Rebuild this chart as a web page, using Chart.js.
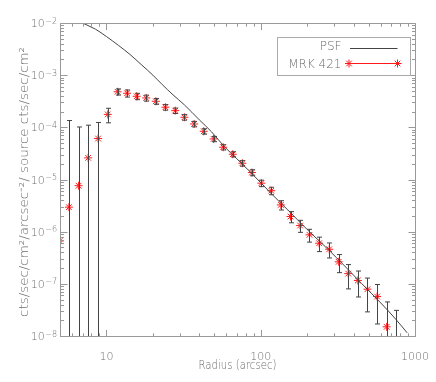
<!DOCTYPE html>
<html>
<head>
<meta charset="utf-8">
<script src="https://cdn.jsdelivr.net/npm/chart.js@4/dist/chart.umd.min.js"></script>
<style>
  html, body { margin: 0; background: #fff; }
</style>
</head>
<body>
<canvas id="profile" width="436" height="382"></canvas>
<script>
// radial profile of MRK 421
const radius = [4.97, 5.71, 6.60, 7.61, 8.83, 10.2, 11.8, 13.6, 15.7, 18.1, 20.9, 24.1,
  27.9, 32.0, 37.0, 42.7, 49.5, 57.1, 65.9, 76.0, 87.7, 101, 117, 135, 156, 180, 207,
  239, 278, 320, 369, 426, 492, 568, 655, 755];
const mrkFlux = [6.6e-7, 2.95e-6, 7.6e-6, 2.6e-5, 6.1e-5, 1.77e-4, 4.8e-4, 4.5e-4, 3.94e-4,
  3.66e-4, 3.16e-4, 2.43e-4, 2.09e-4, 1.56e-4, 1.16e-4, 8.4e-5, 6.0e-5, 4.16e-5, 3.05e-5,
  2.05e-5, 1.36e-5, 8.5e-6, 6.1e-6, 3.26e-6, 1.95e-6, 1.31e-6, 8.7e-7, 6.0e-7, 4.6e-7,
  2.64e-7, 1.57e-7, 1.16e-7, 7.9e-8, 5.7e-8, 1.5e-8, 5e-9];
const mrkErr = [0, 1.32e-4, 9.4e-5, 8.4e-5, 6.3e-5, 5.5e-5, 6.5e-5, 7e-5, 5.5e-5, 4.8e-5,
  4e-5, 3e-5, 2.5e-5, 1.9e-5, 1.4e-5, 1.0e-5, 7e-6, 4.8e-6, 3.5e-6, 2.5e-6, 1.8e-6,
  1.2e-6, 1.0e-6, 6.6e-7, 4.7e-7, 3.4e-7, 2.4e-7, 1.85e-7, 1.47e-7, 1.0e-7, 7.7e-8,
  6.0e-8, 5.0e-8, 4.0e-8, 3.0e-8, 2.6e-8];

// PSF curve
const psfRadius = [6, 7, 8.5, 10, 12, 14.2, 17, 20, 23, 27, 32, 40, 48, 58, 70, 85, 100,
  119, 150, 200, 276, 350, 450, 600, 750, 890];
const psfFlux = [1.3e-2, 1.0e-2, 7.6e-3, 5.5e-3, 3.7e-3, 2.5e-3, 1.55e-3, 1.0e-3, 6.6e-4,
  4.2e-4, 2.7e-4, 1.39e-4, 8.2e-5, 4.3e-5, 2.5e-5, 1.42e-5, 8.7e-6, 5.1e-6, 2.6e-6,
  1.1e-6, 4.45e-7, 2.2e-7, 1.02e-7, 4.3e-8, 2.1e-8, 1.15e-8];

const xTickValues = [10, 100, 1000];
const xTickLabels = ['10', '100', '1000'];
const yTickValues = [1e-8, 1e-7, 1e-6, 1e-5, 1e-4, 1e-3, 1e-2];
const legendLabels = ['PSF', 'MRK 421'];
const xTitle = 'Radius (arcsec)';
const yTitle = 'cts/sec/cm\u00b2/arcsec\u207b\u00b2/ source cts/sec/cm\u00b2';

const FONT = '"DejaVu Sans", "Liberation Sans", sans-serif';
const LIGHT = '200 ';
const axisColor = '#999';
const textColor = '#6e6e6e';
const psfColor = '#444';
const errColor = '#444';
const starColor = '#ff1a1a';

function fitText(ctx, text, x, y, width, angle) {
  ctx.save();
  ctx.translate(x, y);
  ctx.rotate(angle);
  const w = ctx.measureText(text).width;
  ctx.scale(width / w, 1);
  ctx.textAlign = 'center';
  ctx.textBaseline = 'alphabetic';
  ctx.fillText(text, 0, 0);
  ctx.restore();
}

function drawStar(ctx, cx, cy, r) {
  const d = r * Math.SQRT1_2;
  ctx.beginPath();
  ctx.moveTo(cx - r, cy); ctx.lineTo(cx + r, cy);
  ctx.moveTo(cx, cy - r); ctx.lineTo(cx, cy + r);
  ctx.moveTo(cx - d, cy - d); ctx.lineTo(cx + d, cy + d);
  ctx.moveTo(cx - d, cy + d); ctx.lineTo(cx + d, cy - d);
  ctx.stroke();
}

// error bars, clipped to the plot box
const errorBars = {
  id: 'errorBars',
  afterDatasetsDraw(chart) {
    const { ctx, chartArea: a, scales: { x, y } } = chart;
    ctx.save();
    ctx.beginPath();
    ctx.rect(a.left, a.top, a.right - a.left, a.bottom - a.top);
    ctx.clip();
    ctx.strokeStyle = errColor;
    ctx.lineWidth = 1;
    radius.forEach((r, i) => {
      const e = mrkErr[i];
      if (!e) return;
      const px = Math.round(x.getPixelForValue(r)) + 0.5;
      const top = y.getPixelForValue(mrkFlux[i] + e);
      const lo = mrkFlux[i] - e;
      const bot = lo > 0 ? y.getPixelForValue(lo) : a.bottom + 2;
      ctx.beginPath();
      ctx.moveTo(px, top);
      ctx.lineTo(px, bot);
      ctx.moveTo(px - 2.5, top);
      ctx.lineTo(px + 2.5, top);
      if (lo > 0) {
        ctx.moveTo(px - 2.5, bot);
        ctx.lineTo(px + 2.5, bot);
      }
      ctx.stroke();
    });
    ctx.restore();
  }
};

// IDL style box with inward ticks on all four sides
const frame = {
  id: 'frame',
  afterDraw(chart) {
    const { ctx, chartArea: a, scales: { x, y } } = chart;
    ctx.save();
    ctx.strokeStyle = axisColor;
    ctx.lineWidth = 1;
    const L = Math.round(a.left) + 0.5, R = Math.round(a.right) + 0.5;
    const T = Math.round(a.top) + 0.5, B = Math.round(a.bottom) + 0.5;
    ctx.beginPath();
    ctx.moveTo(L, T); ctx.lineTo(L, B); ctx.lineTo(R, B);
    ctx.moveTo(L, T); ctx.lineTo(R, T); ctx.lineTo(R, B);
    for (const d of [1, 10, 100, 1000]) {
      for (let k = 1; k <= 9; k++) {
        const v = k * d;
        if (v < x.min || v > x.max) continue;
        const px = Math.round(x.getPixelForValue(v)) + 0.5;
        const len = k === 1 ? 6.5 : 3.2;
        ctx.moveTo(px, B); ctx.lineTo(px, B - len);
        ctx.moveTo(px, T); ctx.lineTo(px, T + len);
      }
    }
    for (let e = -9; e <= -3; e++) {
      for (let k = 1; k <= 9; k++) {
        const v = k * Math.pow(10, e);
        if (v < y.min * 0.999 || v > y.max * 1.001) continue;
        const py = Math.round(y.getPixelForValue(v)) + 0.5;
        const len = k === 1 ? 7 : 3.5;
        ctx.moveTo(L, py); ctx.lineTo(L + len, py);
        ctx.moveTo(R, py); ctx.lineTo(R - len, py);
      }
    }
    ctx.stroke();

    // y tick labels: 10 with raised exponent
    ctx.fillStyle = textColor;
    yTickValues.forEach(v => {
      const py = y.getPixelForValue(v);
      const exp = '\u2212' + String(Math.abs(Math.round(Math.log10(v))));
      ctx.font = LIGHT + '8px ' + FONT;
      ctx.textAlign = 'right';
      ctx.textBaseline = 'alphabetic';
      const ew = ctx.measureText(exp).width;
      ctx.fillText(exp, a.left - 3, py + 0.5);
      ctx.font = LIGHT + '11px ' + FONT;
      ctx.fillText('10', a.left - 3.5 - ew, py + 4);
    });

    // axis titles
    ctx.font = LIGHT + '11.5px ' + FONT;
    fitText(ctx, xTitle, (a.left + a.right) / 2, 368.5, 78, 0);
    fitText(ctx, yTitle, 28, 182, 270, -Math.PI / 2);
    ctx.restore();
  }
};

const legendBox = {
  id: 'legendBox',
  afterDraw(chart) {
    const ctx = chart.ctx;
    ctx.save();
    ctx.fillStyle = '#fff';
    ctx.fillRect(277.5, 37.5, 133, 38);
    ctx.strokeStyle = '#aaa';
    ctx.lineWidth = 1;
    ctx.strokeRect(277.5, 37.5, 133, 38);

    ctx.fillStyle = textColor;
    ctx.font = LIGHT + '12px ' + FONT;
    ctx.textAlign = 'right';
    ctx.textBaseline = 'alphabetic';
    ctx.fillText(legendLabels[0], 341.5, 49.5);
    ctx.fillText(legendLabels[1], 341.5, 67.5);

    ctx.strokeStyle = psfColor;
    ctx.beginPath();
    ctx.moveTo(350, 48.5); ctx.lineTo(397.5, 48.5);
    ctx.stroke();

    ctx.strokeStyle = starColor;
    drawStar(ctx, 349, 63.5, 4);
    drawStar(ctx, 397.5, 63.5, 4);
    ctx.beginPath();
    ctx.moveTo(349, 63.5); ctx.lineTo(397.5, 63.5);
    ctx.stroke();
    ctx.restore();
  }
};

new Chart(document.getElementById('profile'), {
  type: 'scatter',
  data: {
    datasets: [{
      label: legendLabels[0],
      type: 'line',
      data: psfRadius.map((r, i) => ({ x: r, y: psfFlux[i] })),
      borderColor: psfColor,
      borderWidth: 1,
      pointRadius: 0,
      fill: false,
      cubicInterpolationMode: 'monotone',
      clip: 0
    }, {
      label: legendLabels[1],
      data: radius.map((r, i) => ({ x: r, y: mrkFlux[i] })),
      showLine: false,
      pointStyle: 'star',
      pointRadius: 4,
      pointHoverRadius: 4,
      borderColor: starColor,
      backgroundColor: starColor,
      borderWidth: 1,
      clip: 0
    }]
  },
  options: {
    responsive: false,
    animation: false,
    devicePixelRatio: 1,
    layout: { padding: { left: 0, right: 19, top: 23, bottom: 0 } },
    plugins: { legend: { display: false }, tooltip: { enabled: false } },
    scales: {
      x: {
        type: 'logarithmic',
        position: 'bottom',
        min: 5,
        max: 1000,
        grid: { display: false },
        border: { display: false },
        afterBuildTicks: s => { s.ticks = xTickValues.map(v => ({ value: v })); },
        afterFit: s => { s.height = 46; },
        ticks: {
          autoSkip: false,
          maxRotation: 0,
          padding: 7,
          color: textColor,
          font: { family: FONT, size: 11, weight: 200 },
          callback: (v, i) => xTickLabels[i]
        }
      },
      y: {
        type: 'logarithmic',
        min: 1e-8,
        max: 1e-2,
        grid: { display: false },
        border: { display: false },
        afterBuildTicks: s => { s.ticks = yTickValues.map(v => ({ value: v })); },
        afterFit: s => { s.width = 60; },
        ticks: { display: false }
      }
    }
  },
  plugins: [errorBars, frame, legendBox]
});
</script>
</body>
</html>
